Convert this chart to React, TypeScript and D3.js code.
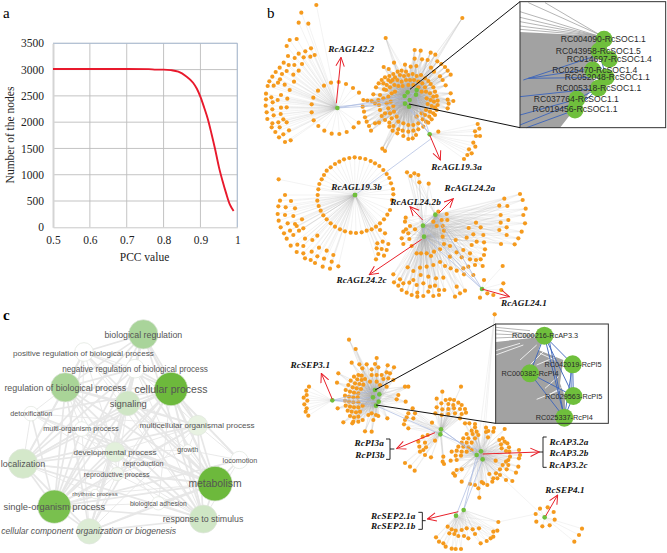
import { useEffect, useRef } from 'react';
import * as d3 from 'd3';

type Pt = [number, number];

// panel a
const pccValues = [0.5, 0.6, 0.7, 0.76, 0.78, 0.8, 0.82, 0.84, 0.86, 0.88, 0.89, 0.9, 0.91, 0.92, 0.93, 0.94, 0.95, 0.96, 0.97, 0.98, 0.99];
const nodeCounts = [3010, 3010, 3010, 3008, 3000, 3000, 2990, 2960, 2880, 2750, 2640, 2480, 2280, 2060, 1780, 1480, 1150, 880, 640, 430, 310];
const xTicks = [0.5, 0.6, 0.7, 0.8, 0.9, 1];
const yTicks = [0, 500, 1000, 1500, 2000, 2500, 3000, 3500];

// panel b, upper network. Values are layout units of the sheet (one unit = a third of a px)
const agl42Hub: Pt = [232, 324];
const agl42Leaves: Pt[] = [[169,15],[124,38],[116,68],[145,71],[89,120],[110,117],[80,138],[153,145],[136,154],[116,161],[164,165],[84,168],[151,170],[104,174],[131,172],[71,188],[86,195],[103,195],[126,192],[59,203],[80,213],[116,212],[47,216],[66,222],[100,224],[37,230],[60,238],[28,244],[54,248],[102,245],[23,258],[41,257],[74,254],[89,270],[18,281],[34,292],[63,285],[18,298],[53,300],[82,296],[17,317],[38,307],[63,323],[80,322],[20,337],[37,328],[62,342],[22,357],[41,346],[70,358],[37,370],[55,367],[80,367],[35,382],[59,382],[87,391],[46,396],[70,403],[57,412],[92,421],[75,426],[213,248],[236,246],[258,252],[192,257],[279,264],[174,272],[160,293],[297,278],[155,313],[155,337],[161,361],[175,378],[193,392],[215,401],[238,402],[260,396],[281,382],[296,368]];
const socHubs: Pt[] = [[443,277],[470,270],[434,288],[468,284],[449,300],[435,311],[447,320]];
const socLeaves: Pt[] = [[377,114],[607,54],[464,150],[482,152],[512,158],[526,164],[464,176],[486,178],[503,180],[532,184],[544,192],[555,201],[563,212],[572,224],[402,188],[435,194],[452,200],[371,201],[386,207],[469,198],[513,203],[522,215],[540,229],[548,240],[557,256],[572,280],[580,303],[563,299],[566,311],[563,325],[425,212],[438,215],[413,215],[400,222],[388,228],[375,232],[365,240],[356,250],[348,262],[340,283],[360,285],[335,303],[345,310],[310,300],[322,302],[308,320],[312,335],[315,352],[320,365],[327,378],[333,392],[345,370],[357,368],[420,225],[432,228],[445,225],[458,222],[470,228],[483,225],[495,235],[505,243],[512,252],[520,262],[525,275],[530,288],[533,302],[533,315],[530,330],[525,345],[515,358],[505,368],[490,380],[405,232],[392,245],[380,255],[372,268],[355,300],[357,315],[360,330],[365,348],[375,360],[388,368],[400,378],[415,388],[428,392],[445,395],[460,392],[475,388],[498,275],[510,280],[520,290],[500,295],[512,300],[522,305],[503,312],[515,318],[525,322],[498,330],[510,335],[520,340],[495,345],[508,350],[488,358],[498,365],[385,240],[398,240],[412,240],[425,245],[438,240],[450,240],[462,240],[475,245],[487,250],[495,262],[370,250],[378,270],[390,262],[403,255],[415,258],[428,258],[445,255],[460,255],[475,262],[485,275],[370,295],[385,290],[395,280],[405,275],[380,310],[392,305],[400,318],[385,325],[375,340],[390,340],[402,335],[395,355],[410,350],[415,365],[430,370],[445,375],[460,375],[475,370],[470,350],[485,340],[445,417],[458,415],[468,405],[430,408],[412,400],[398,392],[388,380],[367,446],[375,453]];
const agl193aHub: Pt = [509, 403];
const agl193aLeaves: Pt[] = [[653,372],[658,386],[645,394],[660,408],[648,408],[640,428],[646,440],[627,448],[635,460],[622,465],[612,477],[535,395]];

// panel b, lower network
const agl193bHub: Pt = [285, 165];
const agl193bRing: Pt[] = [[284,52],[300,54],[316,57],[332,63],[345,70],[358,78],[370,90],[380,102],[388,114],[393,130],[399,147],[400,163],[396,180],[390,210],[382,224],[372,238],[360,250],[348,260],[335,268],[320,272],[305,277],[288,279],[272,278],[255,274],[240,268],[225,260],[212,250],[200,238],[190,226],[182,212],[176,198],[172,182],[173,165],[175,148],[178,132],[185,118],[192,105],[200,92],[212,82],[225,72],[238,65],[252,58],[268,54]];
const agl193bOuter: Pt[] = [[56,118],[75,165],[60,182],[93,183],[55,199],[77,202],[105,205],[53,222],[75,225],[100,228],[56,242],[83,250],[105,252],[126,238],[62,262],[90,272],[110,258],[130,265],[72,280],[100,285],[117,272],[135,296],[157,300],[172,287],[80,296],[92,317],[112,314],[130,318],[110,336],[130,340],[155,335],[177,323],[200,332],[220,345],[135,355],[152,360],[172,349],[192,356],[215,365],[165,369],[188,380],[210,386],[235,379],[352,310],[368,305],[385,312],[350,325],[365,327],[380,330],[355,342],[372,347],[348,358],[360,270],[375,280]];
const agl24Hubs: Pt[] = [[526,224],[489,257],[492,290]];
const agl24Leaves: Pt[] = [[441,97],[452,108],[463,100],[475,105],[478,127],[506,131],[437,233],[435,245],[450,258],[438,268],[465,268],[430,275],[445,280],[425,295],[448,297],[430,312],[455,318],[535,215],[560,222],[545,240],[520,245],[562,240],[530,258],[548,258],[552,272],[470,340],[483,340],[500,340],[522,335],[513,348],[540,328],[552,312],[548,290],[570,318],[587,300],[626,264],[648,248],[662,262],[640,283],[670,285],[620,293],[650,305],[635,315],[672,307],[675,328],[610,330],[630,340],[672,345],[590,337],[570,350],[605,352],[630,358],[648,360],[662,358],[540,366],[555,378],[572,385],[590,392],[610,385],[625,380],[645,375],[668,378],[520,375],[500,380],[480,383],[460,393],[443,382],[612,403],[640,405],[505,410],[482,405],[460,420],[528,415],[550,413],[420,418],[400,403],[402,427],[415,437],[430,430],[448,428],[470,435],[490,430],[510,440],[525,437],[590,440],[615,452],[600,460],[585,470],[425,450],[440,458],[455,465],[472,458],[490,468],[505,455],[520,468],[537,450],[553,450],[472,470],[537,465],[780,162],[733,176],[788,180],[718,197],[742,198],[797,206],[722,225],[745,240],[790,225],[722,248],[795,250],[718,270],[740,285],[785,275],[775,295],[723,312],[764,313],[740,262]];
const agl241Hub: Pt = [666, 447];
const agl241Leaves: Pt[] = [[660,473],[682,460],[700,465],[672,420],[728,378],[730,430],[724,450]];

// panel b, bottom network
const sep31Hub: Pt = [157, 271];
const sep31Leaves: Pt[] = [[87,230],[79,242],[80,255],[71,263],[82,272],[73,283],[80,295],[77,305],[85,317]];
const sepHubs: Pt[] = [[285,240],[298,253],[279,262],[296,275],[288,287]];
const sepLeaves: Pt[] = [[207,89],[227,117],[215,158],[175,190],[171,218],[173,295],[190,337],[238,163],[260,163],[285,162],[290,144],[323,166],[342,172],[247,175],[275,178],[295,172],[320,187],[330,190],[275,195],[290,195],[305,195],[325,205],[340,210],[310,207],[290,215],[270,215],[235,195],[245,197],[222,200],[232,208],[245,210],[255,207],[212,212],[225,220],[238,222],[250,224],[205,225],[218,232],[230,235],[243,237],[197,240],[210,245],[222,248],[235,250],[195,257],[207,260],[220,262],[233,262],[195,272],[207,275],[220,277],[235,277],[197,287],[210,290],[222,292],[235,292],[248,287],[203,302],[215,305],[228,307],[240,305],[210,318],[222,322],[235,320],[220,335],[235,335],[248,330],[265,315],[280,330],[288,315],[295,318],[275,310],[217,340],[300,225],[320,230],[355,255],[350,268],[375,230],[385,230],[377,275],[322,325],[255,364],[275,365]];
const pi3Hubs: Pt[] = [[483,358],[481,373]];
const pi3Leaves: Pt[] = [[398,295],[405,310],[385,310],[380,322],[375,330],[372,343],[400,325],[385,355],[487,245],[543,230],[470,266],[497,270],[510,268],[522,270],[484,280],[505,282],[520,285],[535,278],[545,285],[470,292],[487,298],[505,297],[522,295],[540,297],[555,297],[466,310],[485,315],[505,312],[525,310],[545,312],[558,308],[540,325],[456,338],[428,380],[443,375],[415,395],[435,398],[418,410],[430,420],[438,412],[420,425],[435,435],[453,442],[375,459],[390,470],[404,482],[465,392],[490,440],[488,455],[492,462]];
const ap3Hubs: Pt[] = [[590,435],[603,424],[608,448]];
const ap3Leaves: Pt[] = [[555,340],[568,340],[585,342],[585,352],[618,353],[625,363],[640,365],[575,362],[590,365],[560,372],[578,372],[595,375],[550,385],[565,385],[585,385],[545,398],[560,398],[575,398],[535,410],[550,410],[565,412],[530,422],[545,425],[560,425],[575,420],[527,437],[543,437],[515,425],[530,450],[512,452],[520,490],[530,480],[545,478],[525,497],[545,515],[570,522],[585,525],[595,535],[598,563],[605,516],[622,525],[610,520],[642,354],[674,357],[618,366],[624,382],[668,385],[658,390],[674,395],[663,403],[682,400],[687,412],[665,415],[678,423],[717,420],[688,425],[720,435],[690,440],[717,445],[685,450],[647,452],[678,455],[668,465],[715,470],[685,465],[660,478],[680,478],[708,488],[648,490],[628,492],[660,495],[640,505],[652,505],[678,510],[697,513],[637,515],[644,13]];
const sep2Hubs: Pt[] = [[551,600],[528,617]];
const sep2Leaves: Pt[] = [[503,650],[515,658],[527,662],[545,660],[560,655],[578,658],[597,655],[508,670],[523,672],[535,678],[552,678],[565,685],[585,672],[468,682],[477,695],[490,700],[497,710],[515,716],[527,717],[543,717],[602,700],[620,693],[632,685],[640,680],[640,665],[652,662],[655,636]];
const sep4Hub: Pt = [794, 622];
const sep4Leaves: Pt[] = [[780,596],[803,592],[821,606],[767,612],[824,629],[769,635],[787,649],[809,646],[906,656],[897,675],[883,695]];

// hub to hub edges
const upperBlue: [Pt, Pt][] = [[[232,324],[434,288]],[[232,324],[435,311]],[[232,320],[449,300]],[[509,403],[447,320]],[[509,403],[468,284]],[[443,277],[468,284]],[[434,288],[449,300]],[[470,270],[435,311]],[[509,403],[435,311]]];
const midBlue: [Pt, Pt][] = [[[285,165],[515,-5]],[[526,224],[489,257]],[[489,257],[492,290]],[[526,224],[666,447]],[[492,290],[666,447]],[[489,257],[666,447]]];
const lowBlue: [Pt, Pt][] = [[[157,271],[285,240]],[[157,271],[279,262]],[[157,271],[296,275]],[[157,271],[288,287]],[[285,240],[296,275]],[[298,253],[288,287]],[[483,358],[590,435]],[[481,373],[603,424]],[[483,358],[608,448]],[[590,435],[551,600]],[[608,448],[551,600]],[[603,424],[528,617]],[[288,287],[481,373]]];
const greyBridges: [Pt, Pt][] = [[[288,287],[483,358]],[[296,275],[481,373]],[[481,373],[590,435]],[[608,448],[794,622]],[[551,600],[655,636]],[[655,636],[767,612]]];

// insets, same layout units
const socNodes = ['RC004090-RcSOC1.1', 'RC043958-RcSOC1.5', 'RC014697-RcSOC1.4', 'RC025470-RcSOC1.4', 'RC052048-RcSOC1.1', 'RC005318-RcSOC1.1', 'RC037764-RcSOC1.1', 'RC019456-RcSOC1.1'];
const socNodePos: Pt[] = [[312,118],[297,153],[328,178],[278,210],[318,232],[295,265],[230,298],[225,330]];
const socLabelPos: Pt[] = [[310,118],[295,153],[328,178],[284,210],[322,232],[296,265],[229,298],[225,328]];
const socGrey: Pt[] = [[60,96],[300,108],[300,130],[290,180],[270,210],[285,250],[260,290],[210,345],[180,383],[60,383]];
const socGreyLines: [Pt, Pt][] = [[[85,8],[300,105]],[[135,8],[300,105]],[[60,35],[295,108]],[[60,52],[295,108]],[[60,65],[295,108]],[[60,78],[295,108]],[[60,88],[295,108]]];
const socBlue: [Pt, Pt][] = [[[70,240],[310,160]],[[85,235],[280,205]],[[85,235],[318,232]],[[60,290],[295,265]],[[60,345],[230,298]],[[60,375],[270,290]],[[80,383],[225,330]],[[312,118],[328,178]],[[297,153],[328,178]],[[297,153],[318,232]],[[278,210],[318,232]],[[295,265],[230,298]],[[295,265],[225,330]]];
const sepNodes = ['RC000216-RcAP3.3', 'RC042019-RcPI5', 'RC000382-RcPI4', 'RC029563-RcPI5', 'RC025337-RcPI4'];
const sepNodePos: Pt[] = [[193,77],[278,163],[150,190],[280,258],[253,323]];
const sepLabelPos: Pt[] = [[195,77],[279,163],[150,190],[281,259],[253,323]];
const sepGrey: Pt[] = [[47,96],[190,80],[175,120],[250,150],[240,220],[255,260],[255,340],[47,340]];
const sepGreyLines: [Pt, Pt][] = [[[47,60],[190,78]],[[47,72],[190,78]],[[47,84],[190,78]],[[47,52],[150,62]]];
const sepWhite: [Pt, Pt][] = [[[47,122],[120,100]],[[47,135],[130,105]],[[120,150],[170,105]],[[195,120],[150,165]],[[225,150],[180,130]],[[170,165],[240,135]],[[195,235],[235,200]],[[170,268],[240,240]],[[195,262],[245,232]]];
const sepBlue: [Pt, Pt][] = [[[193,77],[278,163]],[[193,77],[150,190]],[[193,77],[280,258]],[[193,77],[253,323]],[[205,77],[253,323]],[[278,163],[280,258]],[[272,163],[274,258]],[[278,163],[253,323]],[[150,190],[253,323]],[[280,258],[253,323]],[[150,190],[280,258]]];

// arrows and brackets
const arrowsTop: [Pt, Pt][] = [[[229,310],[243,172]],[[509,405],[541,480]]];
const arrowsMid: [Pt, Pt][] = [[[538,218],[580,176]],[[488,240],[450,200]],[[485,298],[328,404]],[[666,447],[748,470]]];
const arrowsLow: [Pt, Pt][] = [[[157,268],[124,190]],[[465,368],[350,416]],[[535,605],[442,627]],[[608,432],[778,426]],[[797,618],[833,555]]];
const bracketsLow: Pt[][] = [[[318,387],[330,387],[330,448],[318,448]],[[330,417],[343,417]],[[415,607],[427,607],[427,658],[415,658]],[[427,632],[437,632]],[[800,381],[789,381],[789,472],[800,472]],[[778,426],[789,426]]];

const labelsTop: [string, number, number][] = [['RcAGL42.2', 274, 146]];
const labelsMid: [string, number, number][] = [['RcAGL19.3a', 590, 81],['RcAGL19.3b', 290, 141],['RcAGL24.2a', 630, 143],['RcAGL24.2b', 467, 187],['RcAGL24.2c', 305, 420],['RcAGL24.1', 792, 488]];
const labelsLow: [string, number, number][] = [['RcSEP3.1', 91, 165],['RcPI3a', 268, 400],['RcPI3b', 270, 434],['RcSEP2.1a', 340, 617],['RcSEP2.1b', 340, 649],['RcAP3.2a', 867, 395],['RcAP3.2b', 867, 430],['RcAP3.2c', 865, 464],['RcSEP4.1', 855, 540]];

// panel c
const goNames = ['biological regulation','positive regulation of biological process','negative regulation of biological process','cellular process','regulation of biological process','signaling','detoxification','multi-organism process','multicellular organismal process','developmental process','growth','locomotion','reproduction','reproductive process','localization','metabolism','single-organism process','rhythmic process','biological adhesion','response to stimulus','cellular component organization or biogenesis'];
const goPos: Pt[] = [[430,103],[252,156],[405,206],[513,267],[196,262],[383,310],[93,341],[245,387],[593,376],[345,456],[563,450],[718,480],[430,491],[351,522],[69,491],[645,551],[163,620],[285,582],[475,610],[610,657],[268,694]];
const goSizes = [44,28,28,50,44,37,22,22,30,30,16,26,0,20,44,52,50,14,20,42,38];
const goFills = ['#a9d49a','#ffffff','#ffffff','#6db93c','#a9d497','#cfe6c5','#ffffff','#ffffff','#e8f2e2','#e2f0db','#ffffff','#ffffff','#ffffff','#f4f8f1','#d4e8ca','#6db93c','#79c04e','#ffffff','#ffffff','#cfe6c5','#dcecd5'];
const goFontSizes = [8.8,8.1,8.2,10.5,8.9,9.4,7.2,7.3,8.1,8.1,6.9,7.2,7.3,7.1,9,10.4,9.4,6,6.7,8.8,8.6];
const goLabelPos: Pt[] = [[430,103],[250,158],[405,206],[513,267],[196,262],[385,310],[94,341],[243,386],[591,376],[345,456],[563,449],[720,480],[430,491],[350,522],[69,491],[645,551],[163,620],[285,582],[475,610],[609,656],[266,694]];
const goEdges: [number, number[]][] = [
  [0, [1,2,3,4,5,8,9,14,15,16,19,20]],
  [1, [2,3,4,5,7,9,14,15,16,19]],
  [2, [3,4,5,8,9,14,15,16,19,20]],
  [3, [4,5,6,7,8,9,10,11,13,14,15,16,18,19,20]],
  [4, [5,6,7,8,9,13,14,15,16,19,20]],
  [5, [7,8,9,10,13,14,15,16,17,19,20]],
  [6, [14,16,15,19,9,8]],
  [7, [9,13,14,16,15,19,20]],
  [8, [9,10,11,13,15,16,19,20,14]],
  [9, [10,13,14,15,16,17,18,19,20]],
  [10, [11,15,19,13]],
  [11, [15,19,3,16]],
  [13, [14,15,16,17,19,20]],
  [14, [15,16,17,19,20]],
  [15, [16,18,19,20,17]],
  [16, [17,18,19,20]],
  [18, [19,20]],
  [19, [20]],
];

export default function App() {
  const svgRef = useRef<SVGSVGElement>(null);

  useEffect(() => {
    const svg = d3.select(svgRef.current);
    if (!svg.node()) return;
    svg.selectAll('*').remove();

    const serif = '"Liberation Serif", serif';
    const sans = '"Liberation Sans", sans-serif';

    // panel letters
    svg.append('text').attr('x', 3).attr('y', 18).attr('font-family', serif).attr('font-size', 15).text('a');
    svg.append('text').attr('x', 267).attr('y', 18).attr('font-family', serif).attr('font-size', 15).text('b');
    svg.append('text').attr('x', 3).attr('y', 320).attr('font-family', serif).attr('font-weight', 'bold').attr('font-size', 15).text('c');

    // --- a: nodes against PCC
    const x = d3.scaleLinear().domain([0.5, 1]).range([53, 237.3]);
    const y = d3.scaleLinear().domain([0, 3500]).range([227.3, 43.3]);
    const a = svg.append('g');
    a.append('g').selectAll('line').data(yTicks.slice(1)).join('line')
      .attr('x1', x(0.5)).attr('x2', x(1)).attr('y1', (d) => y(d)).attr('y2', (d) => y(d))
      .attr('stroke', '#bcbcbc').attr('stroke-width', 0.9);
    a.append('g').selectAll('line').data(xTicks.slice(1)).join('line')
      .attr('y1', y(0)).attr('y2', y(3500)).attr('x1', (d) => x(d)).attr('x2', (d) => x(d))
      .attr('stroke', '#bcbcbc').attr('stroke-width', 0.9);
    a.append('line').attr('x1', x(0.5)).attr('x2', x(1)).attr('y1', y(3500)).attr('y2', y(3500)).attr('stroke', '#a9bcd6').attr('stroke-width', 0.9);
    a.append('line').attr('x1', x(1)).attr('x2', x(1)).attr('y1', y(0)).attr('y2', y(3500)).attr('stroke', '#a9bcd6').attr('stroke-width', 0.9);
    a.append('g').attr('transform', `translate(0,${y(0)})`)
      .call(d3.axisBottom(x).tickValues(xTicks).tickSize(0).tickPadding(9).tickFormat((d) => String(d)))
      .call((sel) => sel.select('.domain').attr('stroke', '#c8c8c8'))
      .call((sel) => sel.selectAll('text').attr('fill', '#222').attr('font-size', 11.5).attr('font-family', serif));
    a.append('g').attr('transform', `translate(${x(0.5)},0)`)
      .call(d3.axisLeft(y).tickValues(yTicks).tickSize(0).tickPadding(9).tickFormat((d) => String(d)))
      .call((sel) => sel.select('.domain').attr('stroke', '#d4d4d4').attr('stroke-width', 2))
      .call((sel) => sel.selectAll('text').attr('fill', '#222').attr('font-size', 11.5).attr('font-family', serif));
    a.append('text').attr('x', 144.5).attr('y', 261).attr('text-anchor', 'middle').attr('font-family', serif).attr('font-size', 11.5).attr('fill', '#222').text('PCC value');
    a.append('text').attr('transform', 'rotate(-90)').attr('x', -135).attr('y', 14).attr('text-anchor', 'middle').attr('font-family', serif).attr('font-size', 11.5).attr('fill', '#222').text('Number of the nodes');
    const curve = d3.line<number>().x((d) => x(d)).y((_, i) => y(nodeCounts[i])).curve(d3.curveMonotoneX);
    a.append('path').attr('d', curve(pccValues)).attr('fill', 'none').attr('stroke', '#e8192c').attr('stroke-width', 1.9);

    // --- layouts of the network sheets
    const layout = (ox: number, oy: number) => {
      const sx = d3.scaleLinear().domain([0, 3]).range([ox, ox + 1]);
      const sy = d3.scaleLinear().domain([0, 3]).range([oy, oy + 1]);
      return (p: Pt): Pt => [sx(p[0]), sy(p[1])];
    };
    const top = layout(260, 0);
    const mid = layout(260, 140);
    const low = layout(280, 310);
    const cornerTop = layout(500, 0);
    const cornerLow = layout(480, 310);

    const edges = svg.append('g').attr('stroke', '#a8a8a8').attr('stroke-opacity', 0.32).attr('stroke-width', 0.45);
    const dots = svg.append('g').attr('fill', '#f59a1d');
    const blues = svg.append('g').attr('stroke', '#a9b9e0').attr('stroke-width', 0.7);
    const hubsG = svg.append('g').attr('fill', '#6fbf3c');

    const star = (place: (p: Pt) => Pt, hubs: Pt[], leaves: Pt[]) => {
      hubs.forEach((h) => {
        const [hx, hy] = place(h);
        edges.append('g').selectAll('line').data(leaves).join('line')
          .attr('x1', hx).attr('y1', hy)
          .attr('x2', (d) => place(d)[0]).attr('y2', (d) => place(d)[1]);
      });
      dots.append('g').selectAll('circle').data(leaves).join('circle')
        .attr('cx', (d) => place(d)[0]).attr('cy', (d) => place(d)[1]).attr('r', 2.1);
      hubsG.append('g').selectAll('circle').data(hubs).join('circle')
        .attr('cx', (d) => place(d)[0]).attr('cy', (d) => place(d)[1]).attr('r', 2.3);
    };

    star(top, [agl42Hub], agl42Leaves);
    star(top, socHubs, socLeaves);
    star(top, [agl193aHub], agl193aLeaves);
    star(mid, [agl193bHub], agl193bRing);
    star(mid, [agl193bHub], agl193bOuter);
    star(mid, agl24Hubs, agl24Leaves);
    star(mid, [agl241Hub], agl241Leaves);
    star(low, [sep31Hub], sep31Leaves);
    star(low, sepHubs, sepLeaves);
    star(low, pi3Hubs, pi3Leaves);
    star(low, ap3Hubs, ap3Leaves);
    star(low, sep2Hubs, sep2Leaves);
    star(low, [sep4Hub], sep4Leaves);

    const segs = (g: d3.Selection<SVGGElement, unknown, null, undefined>, place: (p: Pt) => Pt, list: [Pt, Pt][]) =>
      g.append('g').selectAll('line').data(list).join('line')
        .attr('x1', (d) => place(d[0])[0]).attr('y1', (d) => place(d[0])[1])
        .attr('x2', (d) => place(d[1])[0]).attr('y2', (d) => place(d[1])[1]);
    segs(edges as any, low, greyBridges);
    segs(blues as any, top, upperBlue);
    segs(blues as any, mid, midBlue);
    segs(blues as any, low, lowBlue);

    // red arrows
    const arrowDefs = svg.append('defs');
    arrowDefs.append('marker').attr('id', 'open-arrow').attr('viewBox', '0 0 10 10').attr('refX', 9.4).attr('refY', 5)
      .attr('markerWidth', 10).attr('markerHeight', 10).attr('markerUnits', 'userSpaceOnUse').attr('orient', 'auto')
      .append('path').attr('d', 'M0.5,0.8L9.4,5L0.5,9.2').attr('fill', 'none').attr('stroke', '#e8202a').attr('stroke-width', 1);
    const reds = svg.append('g').attr('stroke', '#e8202a').attr('stroke-width', 1).attr('fill', 'none');
    [segs(reds as any, top, arrowsTop), segs(reds as any, mid, arrowsMid), segs(reds as any, low, arrowsLow)].forEach((s) => s.attr('marker-end', 'url(#open-arrow)'));
    const polyline = d3.line<Pt>();
    svg.append('g').selectAll('path').data(bracketsLow).join('path')
      .attr('d', (d) => polyline(d.map(low)))
      .attr('fill', 'none').attr('stroke', '#111').attr('stroke-width', 0.9);

    const names = svg.append('g').attr('font-family', serif).attr('font-weight', 'bold').attr('font-style', 'italic')
      .attr('font-size', 9.2).attr('letter-spacing', 0.15).attr('text-anchor', 'middle').attr('fill', '#111');
    const nameSet = (place: (p: Pt) => Pt, list: [string, number, number][]) =>
      names.append('g').selectAll('text').data(list).join('text')
        .attr('x', (d) => place([d[1], d[2]])[0]).attr('y', (d) => place([d[1], d[2]])[1] + 3).text((d) => d[0]);
    nameSet(top, labelsTop);
    nameSet(mid, labelsMid);
    nameSet(low, labelsLow);

    // --- insets
    const inset = (
      place: (p: Pt) => Pt, box: [Pt, Pt], hubA: Pt, hubB: Pt, lineA: Pt, lineB: Pt,
      grey: Pt[], greyLines: [Pt, Pt][], whiteLines: [Pt, Pt][], blue: [Pt, Pt][],
      labels: string[], pos: Pt[], labelPos: Pt[], r: number, fontSize: number,
    ) => {
      const g = svg.append('g');
      const [p0, p1] = [place(box[0]), place(box[1])];
      g.append('rect').attr('x', p0[0]).attr('y', p0[1]).attr('width', p1[0] - p0[0]).attr('height', p1[1] - p0[1]).attr('fill', '#fff');
      g.append('path').attr('d', polyline(grey.map(place))).attr('fill', '#a2a2a2');
      segs(g.append('g').attr('stroke', '#a2a2a2').attr('stroke-width', 0.8) as any, place, greyLines);
      segs(g.append('g').attr('stroke', '#fff').attr('stroke-width', 0.8) as any, place, whiteLines);
      segs(g.append('g').attr('stroke', '#3a63bb').attr('stroke-width', 0.9) as any, place, blue);
      pos.forEach((p, i) => {
        g.append('circle').attr('cx', place(p)[0]).attr('cy', place(p)[1]).attr('r', r).attr('fill', '#6fbf3c');
      });
      pos.forEach((_, i) => {
        g.append('text').attr('x', place(labelPos[i])[0]).attr('y', place(labelPos[i])[1] + fontSize * 0.36)
          .attr('text-anchor', 'middle').attr('font-family', sans).attr('font-size', fontSize).attr('fill', '#2a2a2a').text(labels[i]);
      });
      g.append('rect').attr('x', p0[0]).attr('y', p0[1]).attr('width', p1[0] - p0[0]).attr('height', p1[1] - p0[1])
        .attr('fill', 'none').attr('stroke', '#333').attr('stroke-width', 1);
      const linesG = svg.append('g').attr('stroke', '#111').attr('stroke-width', 1);
      linesG.append('line').attr('x1', hubA[0]).attr('y1', hubA[1]).attr('x2', lineA[0]).attr('y2', lineA[1]);
      linesG.append('line').attr('x1', hubB[0]).attr('y1', hubB[1]).attr('x2', lineB[0]).attr('y2', lineB[1]);
    };

    inset(cornerTop, [[60, 5], [497, 383]], top([450, 268]), top([447, 312]), cornerTop([60, 5]), cornerTop([60, 383]),
      socGrey, socGreyLines, [], socBlue, socNodes, socNodePos, socLabelPos, 8.5, 8.6);
    inset(cornerLow, [[47, 42], [385, 340]], low([285, 240]), low([288, 285]), cornerLow([47, 42]), cornerLow([47, 340]),
      sepGrey, sepGreyLines, sepWhite, sepBlue, sepNodes, sepNodePos, sepLabelPos, 9, 7.3);

    // --- c: GO term network
    const cx = d3.scaleLinear().domain([0, 810]).range([0, 270]);
    const cy = d3.scaleLinear().domain([0, 759]).range([300, 553]);
    const c = svg.append('g');
    goEdges.forEach(([from, tos]) => {
      c.append('g').selectAll('line').data(tos).join('line')
        .attr('x1', cx(goPos[from][0])).attr('y1', cy(goPos[from][1]))
        .attr('x2', (d) => cx(goPos[d][0])).attr('y2', (d) => cy(goPos[d][1]))
        .attr('stroke', '#e7e7e7')
        .attr('stroke-width', (d) => (goSizes[from] + goSizes[d] > 70 ? 1.7 : 0.9));
    });
    c.append('g').selectAll('circle').data(goPos).join('circle')
      .attr('cx', (d) => cx(d[0])).attr('cy', (d) => cy(d[1]))
      .attr('r', (_, i) => cx(goSizes[i]))
      .attr('fill', (_, i) => goFills[i])
      .attr('stroke', '#dfe5dc').attr('stroke-width', (_, i) => (goSizes[i] ? 0.7 : 0));
    c.append('g').selectAll('text').data(goNames).join('text')
      .attr('x', (_, i) => cx(goLabelPos[i][0])).attr('y', (_, i) => cy(goLabelPos[i][1]) + goFontSizes[i] * 0.36)
      .attr('text-anchor', 'middle').attr('font-family', sans)
      .attr('font-size', (_, i) => goFontSizes[i]).attr('fill', '#555')
      .attr('font-style', (_, i) => (i === 20 ? 'italic' : 'normal'))
      .text((d) => d);
  }, []);

  return <svg ref={svgRef} width={667} height={553} style={{ position: 'absolute', left: 0, top: 0, background: '#fff' }} />;
}
